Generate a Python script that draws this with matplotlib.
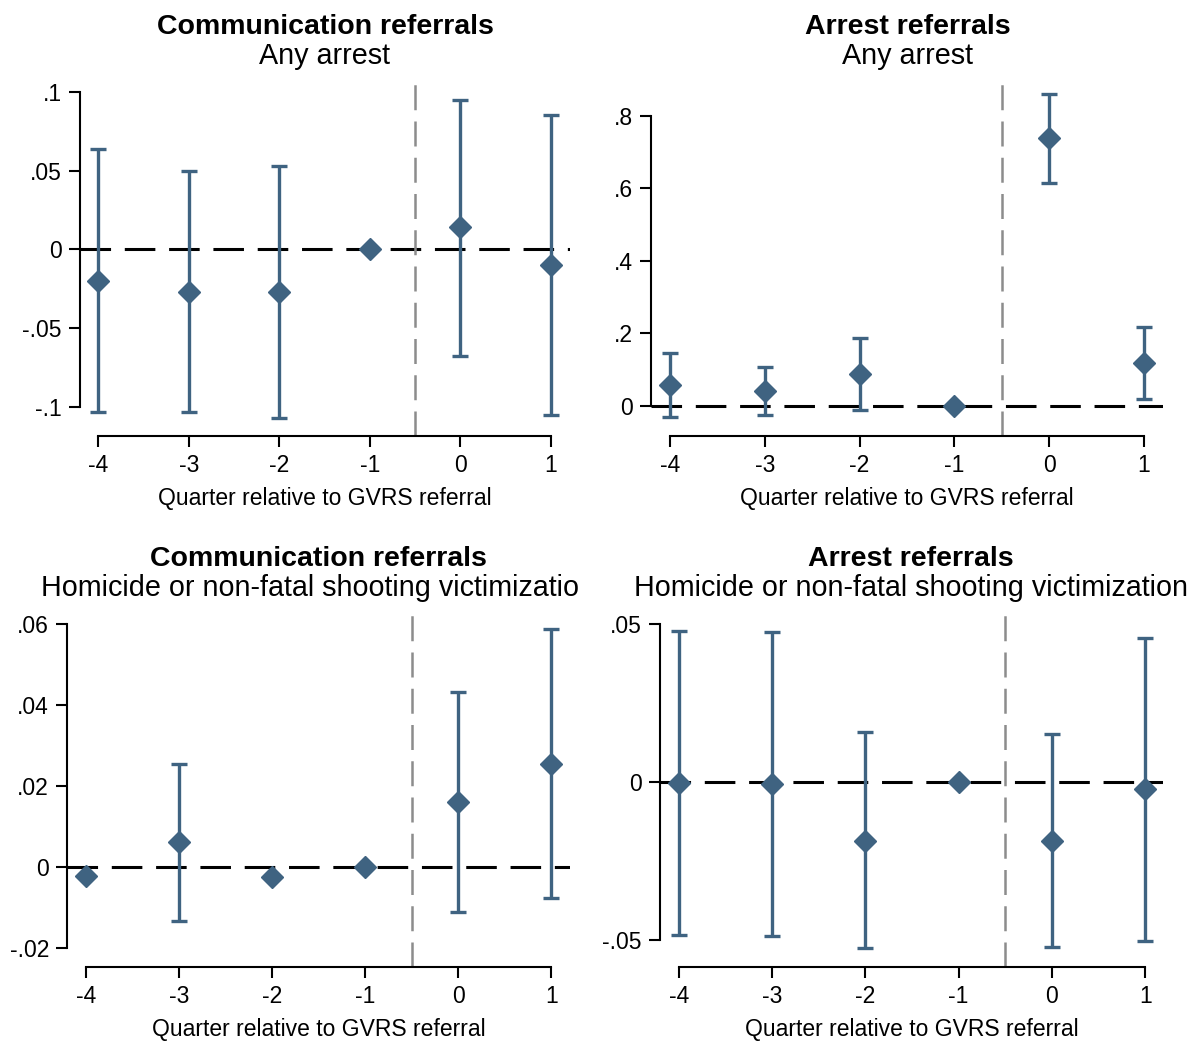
import numpy as np
import matplotlib
matplotlib.use("Agg")
import matplotlib.pyplot as plt

plt.rcParams['font.family'] = ['Liberation Sans', 'DejaVu Sans']

quarters = [-4, -3, -2, -1, 0, 1]
xtick_labels = ["-4", "-3", "-2", "-1", "0", "1"]

# Panel 1: Communication referrals, Any arrest
p1_est = [-0.020, -0.027, -0.027, 0.0, 0.014, -0.010]
p1_lo = [-0.103, -0.103, -0.107, np.nan, -0.068, -0.105]
p1_hi = [0.064, 0.050, 0.053, np.nan, 0.095, 0.085]
p1_yticks = [-0.1, -0.05, 0, 0.05, 0.1]
p1_ylabels = ["-.1", "-.05", "0", ".05", ".1"]

# Panel 2: Arrest referrals, Any arrest
p2_est = [0.058, 0.040, 0.089, 0.0, 0.738, 0.118]
p2_lo = [-0.031, -0.026, -0.011, np.nan, 0.615, 0.018]
p2_hi = [0.146, 0.108, 0.187, np.nan, 0.861, 0.218]
p2_yticks = [0, 0.2, 0.4, 0.6, 0.8]
p2_ylabels = ["0", ".2", ".4", ".6", ".8"]

# Panel 3: Communication referrals, Homicide / shooting victimization
p3_est = [-0.0023, 0.0061, -0.0025, 0.0, 0.0160, 0.0255]
p3_lo = [np.nan, -0.0133, np.nan, np.nan, -0.0110, -0.0077]
p3_hi = [np.nan, 0.0255, np.nan, np.nan, 0.0433, 0.0587]
p3_yticks = [-0.02, 0, 0.02, 0.04, 0.06]
p3_ylabels = ["-.02", "0", ".02", ".04", ".06"]

# Panel 4: Arrest referrals, Homicide / shooting victimization
p4_est = [-0.0004, -0.0006, -0.0185, 0.0, -0.0185, -0.0023]
p4_lo = [-0.0485, -0.0487, -0.0526, np.nan, -0.0522, -0.0502]
p4_hi = [0.0477, 0.0475, 0.0157, np.nan, 0.0153, 0.0457]
p4_yticks = [-0.05, 0, 0.05]
p4_ylabels = ["-.05", "0", ".05"]

titles = ["Communication referrals", "Arrest referrals",
          "Communication referrals", "Arrest referrals"]
subtitles = ["Any arrest", "Any arrest",
             "Homicide or non-fatal shooting victimizatio",
             "Homicide or non-fatal shooting victimization"]
xlabel = "Quarter relative to GVRS referral"

W, H = 1193, 1041
fig = plt.figure(figsize=(W / 100, H / 100), dpi=100)

# layout in pixels: left, right, top, bottom, ylim, xlim
boxes = [
    (80, 570, 80, 436, (-0.1185, 0.1075), (-4.2, 1.21)),
    (651, 1163, 80, 436, (-0.083, 0.899), (-4.2, 1.2)),
    (67, 570, 612, 967, (-0.0247, 0.063), (-4.2, 1.2)),
    (660, 1163, 612, 967, (-0.0585, 0.0538), (-4.2, 1.19)),
]
panels = [
    (p1_est, p1_lo, p1_hi, p1_yticks, p1_ylabels),
    (p2_est, p2_lo, p2_hi, p2_yticks, p2_ylabels),
    (p3_est, p3_lo, p3_hi, p3_yticks, p3_ylabels),
    (p4_est, p4_lo, p4_hi, p4_yticks, p4_ylabels),
]
title_centers = [325, 908, 318, 911]
sub_centers = [325, 908, 310, 911]

color = "#3F6381"
for i, ((l, r, t, b, ylim, xlim), (est, lo, hi, yt, yl)) in enumerate(zip(boxes, panels)):
    ax = fig.add_axes([l / W, 1 - b / H, (r - l) / W, (b - t) / H])
    est = np.array(est); lo = np.array(lo); hi = np.array(hi)
    x = np.array(quarters)
    ax.axhline(0, color="black", lw=2.2, ls=(0, (10, 4.5)), zorder=1)
    ax.axvline(-0.5, color="#8c8c8c", lw=1.8, ls=(0, (10, 4.5)), zorder=1)
    mask = ~np.isnan(lo)
    ax.errorbar(x[mask], est[mask], yerr=[est[mask] - lo[mask], hi[mask] - est[mask]],
                fmt="none", ecolor=color, elinewidth=2.4, capsize=6, capthick=2.4, zorder=2)
    ax.plot(x, est, "D", color=color, ms=11, mec=color, zorder=3, clip_on=False)
    ax.set_xlim(*xlim)
    ax.set_ylim(*ylim)
    ax.set_xticks(quarters)
    ax.set_xticklabels(xtick_labels)
    ax.set_yticks(yt)
    ax.set_yticklabels(yl)
    for s in ["top", "right"]:
        ax.spines[s].set_visible(False)
    ax.spines["left"].set_bounds(min(yt), max(yt))
    ax.spines["bottom"].set_bounds(min(quarters), max(quarters))
    for s in ["left", "bottom"]:
        ax.spines[s].set_linewidth(1.5)
    ax.tick_params(axis="both", length=8, width=1.5, labelsize=16.5, pad=5)
    ax.set_xlabel(xlabel, fontsize=16.5, labelpad=7)
    fig.text(title_centers[i] / W, 1 - (t - 53) / H, titles[i], ha="center", va="center",
             fontsize=20.5, fontweight="bold")
    fig.text(sub_centers[i] / W, 1 - (t - 24) / H, subtitles[i], ha="center", va="center",
             fontsize=20.7)

fig.savefig("out.png", dpi=100)
